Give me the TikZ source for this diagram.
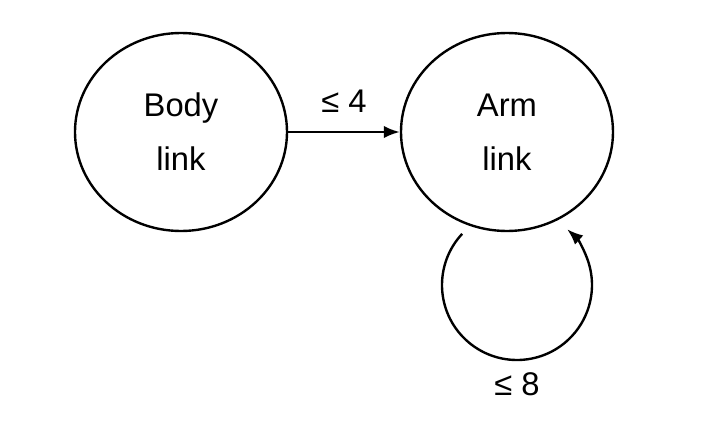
\documentclass[tikz,border=0pt]{standalone}
\usepackage{fontspec}
\setmainfont{Liberation Sans}
\usetikzlibrary{shapes.geometric,arrows.meta}
\tikzset{
    link/.style={ellipse, draw, line width=1.7pt, minimum width=5.3cm,
        minimum height=4.95cm, inner sep=0pt, align=center,
        font=\fontsize{23.3}{38.4}\selectfont},
    conn/.style={line width=1.7pt, -{Latex[length=4mm,width=3.1mm]}},
    count/.style={inner sep=0pt, font=\fontsize{23.3}{28}\selectfont}
}
\begin{document}
\begin{tikzpicture}
    \useasboundingbox (0,0) rectangle (17.8,-10.65);
    %% the two links
    \node[link] (body) at (4.525,-3.3) {Body\\link};
    \node[link] (arm) at (12.675,-3.3) {Arm\\link};
    %% body to arm
    \draw[conn] (body.east) -- (arm.west)
        node[count,pos=0.5,anchor=south,yshift=0.47cm] (four) {≤ 4};
    %% arm to itself
    \coordinate (loop) at (12.925,-7.125);
    \draw[conn] (loop) ++(137:1.875) arc[start angle=137, end angle=408, radius=1.875];
    \node[count] (eight) at (12.925,-9.6) {≤ 8};
\end{tikzpicture}
\end{document}
